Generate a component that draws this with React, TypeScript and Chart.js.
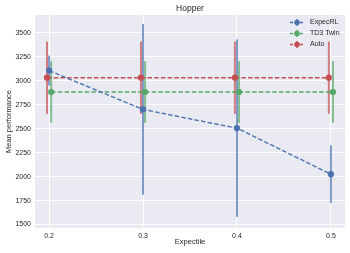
import React, { useEffect, useRef } from "react";
import { Chart, registerables } from "chart.js";

Chart.register(...registerables);

const expectiles = [0.2, 0.3, 0.4, 0.5];
const expecRLMean = [3105, 2700, 2505, 2025];
const expecRLErr = [156, 890, 925, 300];
const td3TwinMean = [2882, 2882, 2882, 2882];
const td3TwinErr = [322, 322, 322, 322];
const autoMean = [3031, 3031, 3031, 3031];
const autoErr = [377, 377, 377, 377];
const xTickValues = [0.2, 0.3, 0.4, 0.5];
const yTickValues = [1500, 1750, 2000, 2250, 2500, 2750, 3000, 3250, 3500];

const FONT = "'Liberation Sans', Arial, sans-serif";
const TEXT = "#262626";

const blue = "#4C72B0";
const green = "#55A868";
const red = "#C44E52";

const withAlpha = (hex: string, a: number) => {
  const r = parseInt(hex.slice(1, 3), 16);
  const g = parseInt(hex.slice(3, 5), 16);
  const b = parseInt(hex.slice(5, 7), 16);
  return `rgba(${r},${g},${b},${a})`;
};

const bgPlugin = {
  id: "bgArea",
  beforeDraw(chart: any) {
    const { ctx, chartArea } = chart;
    ctx.save();
    ctx.fillStyle = "#ffffff";
    ctx.fillRect(0, 0, chart.width, chart.height);
    ctx.fillStyle = "#EAEAF2";
    ctx.fillRect(chartArea.left, chartArea.top, chartArea.right - chartArea.left, chartArea.bottom - chartArea.top);
    ctx.restore();
  },
};

const errorBarPlugin = {
  id: "errorBars",
  beforeDatasetsDraw(chart: any) {
    const { ctx } = chart;
    const xs = chart.scales.x;
    const ys = chart.scales.y;
    chart.data.datasets.forEach((ds: any) => {
      ctx.save();
      ctx.strokeStyle = withAlpha(ds.baseColor, 0.7);
      ctx.lineWidth = 2;
      ds.data.forEach((p: any, i: number) => {
        const x = xs.getPixelForValue(p.x);
        ctx.beginPath();
        ctx.moveTo(x, ys.getPixelForValue(p.y + ds.errors[i]));
        ctx.lineTo(x, ys.getPixelForValue(p.y - ds.errors[i]));
        ctx.stroke();
      });
      ctx.restore();
    });
  },
};

const legendPlugin = {
  id: "customLegend",
  afterDraw(chart: any) {
    const { ctx, chartArea } = chart;
    ctx.save();
    chart.data.datasets.forEach((ds: any, i: number) => {
      const y = chartArea.top + 7.5 + i * 11;
      const mx = chartArea.right - 48;
      ctx.strokeStyle = ds.baseColor;
      ctx.lineWidth = 1.4;
      ctx.setLineDash([3, 2]);
      ctx.beginPath();
      ctx.moveTo(mx - 7, y);
      ctx.lineTo(mx + 7, y);
      ctx.stroke();
      ctx.setLineDash([]);
      ctx.strokeStyle = withAlpha(ds.baseColor, 0.7);
      ctx.lineWidth = 2;
      ctx.beginPath();
      ctx.moveTo(mx, y - 3.5);
      ctx.lineTo(mx, y + 3.5);
      ctx.stroke();
      ctx.fillStyle = ds.baseColor;
      ctx.beginPath();
      ctx.arc(mx, y, 2.8, 0, Math.PI * 2);
      ctx.fill();
      ctx.fillStyle = TEXT;
      ctx.font = `7px ${FONT}`;
      ctx.textBaseline = "middle";
      ctx.textAlign = "left";
      ctx.fillText(ds.label, chartArea.right - 35, y);
    });
    ctx.restore();
  },
};

function makeDataset(label: string, color: string, means: number[], errs: number[], shift: number) {
  return {
    label,
    baseColor: color,
    errors: errs,
    data: expectiles.map((x, i) => ({ x: x + shift, y: means[i] })),
    showLine: true,
    borderColor: color,
    backgroundColor: color,
    borderWidth: 1.4,
    borderDash: [4.5, 2.2],
    pointRadius: 3.1,
    pointBorderWidth: 0,
    pointBackgroundColor: color,
    pointHoverRadius: 3.1,
    fill: false,
    tension: 0,
  };
}

export default function App() {
  const canvasRef = useRef<HTMLCanvasElement | null>(null);

  useEffect(() => {
    if (!canvasRef.current) return;
    const chart = new Chart(canvasRef.current, {
      type: "scatter",
      data: {
        datasets: [
          makeDataset("ExpecRL", blue, expecRLMean, expecRLErr, 0),
          makeDataset("TD3 Twin", green, td3TwinMean, td3TwinErr, 0.0022),
          makeDataset("Auto", red, autoMean, autoErr, -0.0022),
        ] as any,
      },
      options: {
        responsive: false,
        animation: false,
        layout: { padding: { top: 0, right: 5, left: 0, bottom: 0 } },
        plugins: {
          legend: { display: false },
          tooltip: { enabled: false },
          title: {
            display: true,
            text: "Hopper",
            fullSize: false,
            color: TEXT,
            font: { family: FONT, size: 8.5, weight: "normal" },
            padding: { top: 3.4, bottom: 1.4 },
          },
        },
        scales: {
          x: {
            type: "linear",
            min: 0.185,
            max: 0.515,
            afterBuildTicks: (scale: any) => {
              scale.ticks = xTickValues.map((v) => ({ value: v }));
            },
            afterFit: (scale: any) => {
              scale.height = 25;
            },
            grid: { color: "#ffffff", lineWidth: 1, drawTicks: false },
            border: { display: false },
            ticks: {
              color: TEXT,
              font: { family: FONT, size: 7 },
              padding: 4,
              callback: (v: any) => Number(v).toFixed(1),
            },
            title: {
              display: true,
              text: "Expectile",
              color: TEXT,
              font: { family: FONT, size: 7.5 },
              padding: { top: 0, bottom: 6.5 },
            },
          },
          y: {
            type: "linear",
            min: 1464,
            max: 3685,
            afterBuildTicks: (scale: any) => {
              scale.ticks = yTickValues.map((v) => ({ value: v }));
            },
            afterFit: (scale: any) => {
              scale.width = 35;
            },
            grid: { color: "#ffffff", lineWidth: 1, drawTicks: false },
            border: { display: false },
            ticks: {
              color: TEXT,
              font: { family: FONT, size: 7 },
              padding: 4,
              callback: (v: any) => String(v),
            },
            title: {
              display: true,
              text: "Mean performance",
              color: TEXT,
              font: { family: FONT, size: 7.5 },
              padding: { top: 4, bottom: 0 },
            },
          },
        },
      } as any,
      plugins: [bgPlugin, errorBarPlugin, legendPlugin],
    });
    return () => chart.destroy();
  }, []);

  return (
    <div style={{ position: "fixed", left: 0, top: 0, width: 350, height: 253, background: "#fff" }}>
      <canvas ref={canvasRef} width={350} height={253} style={{ display: "block" }} />
    </div>
  );
}
